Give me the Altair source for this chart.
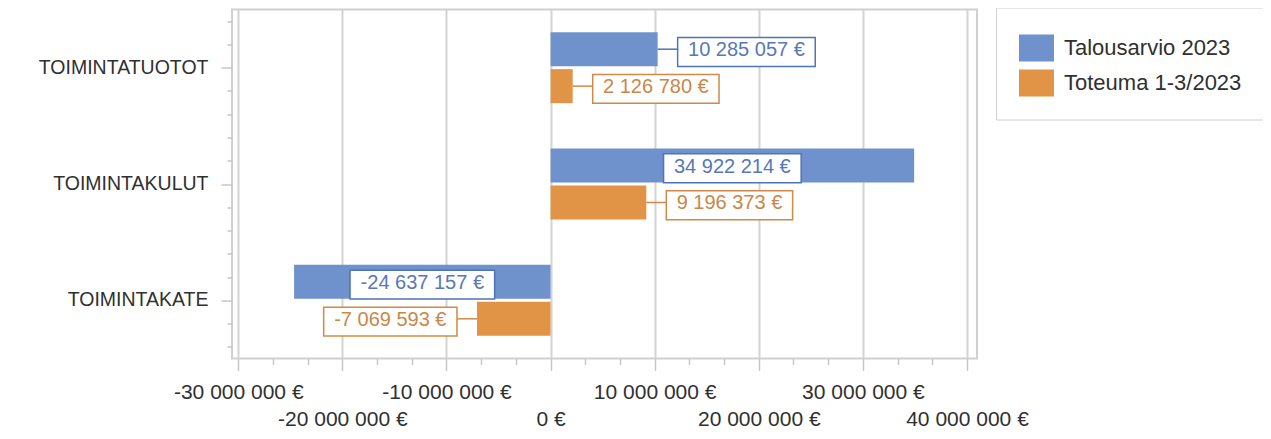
import altair as alt
import pandas as pd

# ---------------- data ----------------
categories = ["TOIMINTATUOTOT", "TOIMINTAKULUT", "TOIMINTAKATE"]
series_names = ["Talousarvio 2023", "Toteuma 1-3/2023"]
talousarvio_2023 = [10285057, 34922214, -24637157]
toteuma_1_3_2023 = [2126780, 9196373, -7069593]
x_major_ticks = [-30000000, -20000000, -10000000, 0, 10000000, 20000000, 30000000, 40000000]
y_tick_positions = [0.1, 0.3, 0.5, 0.7, 0.9, 1.1, 1.3, 1.5, 1.7, 1.9, 2.1, 2.3, 2.5, 2.7, 2.9]

series_fill = ["#6f91cc", "#e29446"]
series_line = ["#4f74b8", "#d08a45"]
series_text = ["#5878b8", "#c9874a"]


def eur(v):
    return f"{v:,}".replace(",", " ") + " €"


rows = []
for s, vals in zip(series_names, [talousarvio_2023, toteuma_1_3_2023]):
    for c, v in zip(categories, vals):
        rows.append({"cat": c, "series": s, "value": v, "label": eur(v)})
df = pd.DataFrame(rows)

# minor ticks (three sub-intervals per major step)
x_all_ticks = []
for a, b in zip(x_major_ticks[:-1], x_major_ticks[1:]):
    x_all_ticks += [a, round(a + (b - a) / 3), round(a + 2 * (b - a) / 3)]
x_all_ticks.append(x_major_ticks[-1])

# ---------------- layout constants ----------------
FONT = "Liberation Sans"
XMIN, XMAX = -30600000, 40960000
W, H = 745, 349
K = W / (XMAX - XMIN)  # px per euro
GAP = 20

MAJ = "abs(datum.value % 10000000) < 1"
xaxis = alt.Axis(
    values=x_all_ticks,
    title=None,
    domain=False,
    grid=True,
    gridColor="#d3d3d3",
    gridWidth=2,
    gridOpacity={"condition": {"test": MAJ, "value": 1}, "value": 0},
    ticks=True,
    tickColor="#c6c6c6",
    tickWidth=1.5,
    tickSize={"condition": {"test": MAJ, "value": 12}, "value": 6},
    labelExpr=MAJ + " ? replace(replace(format(datum.value, ',d'), regexp(',', 'g'), ' '), '\u2212', '-') + ' €' : ''",
    labelPadding={"condition": {"test": "datum.value % 20000000 == 0", "value": 38}, "value": 11},
    labelFontSize=21,
    labelColor="#303030",
    labelOverlap=False,
    labelFlush=False,
    labelBound=False,
)
xscale = alt.Scale(domain=[XMIN, XMAX], nice=False, zero=False)

yaxis = alt.Axis(title=None, ticks=False, domain=False, grid=False, labelPadding=24,
                 labelFontSize=19.5, labelColor="#303030", orient="left")
yscale = alt.Scale(domain=categories, paddingInner=0.39, paddingOuter=0.195)
Y = alt.Y("cat:N", sort=categories, scale=yscale, axis=yaxis)
YO = alt.YOffset("series:N", sort=series_names, scale=alt.Scale(domain=series_names, paddingInner=0.08))

base = alt.Chart(df).transform_calculate(
    bw="11.3*length(replace(datum.label, '-', '')) + 2 + (indexof(datum.label, '-') >= 0 ? 7 : 0)",
    vpx=f"abs(datum.value)*{K}",
    sgn="datum.value < 0 ? -1 : 1",
).transform_calculate(
    inside="datum.vpx > datum.bw + 20",
).transform_calculate(
    anchor=f"datum.inside ? datum.value/2 : datum.value + datum.sgn*({GAP} + datum.bw/2)/{K}",
).transform_calculate(
    bx1=f"datum.anchor - (datum.bw/2)/{K}",
    bx2=f"datum.anchor + (datum.bw/2)/{K}",
    lend=f"datum.anchor - datum.sgn*(datum.bw/2)/{K}",
)

legend = alt.Legend(
    title=None,
    orient="none",
    legendX=764,
    legendY=-2,
    direction="vertical",
    labelFontSize=22,
    labelFont=FONT,
    labelColor="#303030",
    labelOffset=10,
    labelLimit=400,
    symbolType="M-1,-0.771L1,-0.771L1,0.771L-1,0.771Z",
    symbolSize=1225,
    symbolStrokeWidth=0,
    symbolOpacity=1,
    padding=23,
    rowPadding=4,
    strokeColor="#d0d0d0",
    fillColor="white",
)

bars = base.mark_bar().encode(
    x=alt.X("value:Q", scale=xscale, axis=xaxis),
    x2=alt.datum(0),
    y=Y,
    yOffset=YO,
    color=alt.Color("series:N", sort=series_names,
                    scale=alt.Scale(domain=series_names, range=series_fill), legend=legend),
)

leaders = base.transform_filter("!datum.inside").mark_rule(strokeWidth=1.5).encode(
    x=alt.X("value:Q", scale=xscale, axis=xaxis),
    x2="lend:Q",
    y=Y,
    yOffset=YO,
    stroke=alt.Stroke("series:N", sort=series_names,
                      scale=alt.Scale(domain=series_names, range=series_line), legend=None),
)

boxes = base.mark_bar(fill="white", strokeWidth=1.5, height={"band": 0.85}).encode(
    x=alt.X("bx1:Q", scale=xscale, axis=xaxis),
    x2="bx2:Q",
    y=Y,
    yOffset=YO,
    stroke=alt.Stroke("series:N", sort=series_names,
                      scale=alt.Scale(domain=series_names, range=series_line), legend=None),
)

texts = base.mark_text(fontSize=20, font=FONT, align="center", baseline="middle", dy=1).encode(
    x=alt.X("anchor:Q", scale=xscale, axis=xaxis),
    y=Y,
    yOffset=YO,
    text="label:N",
    fill=alt.Fill("series:N", sort=series_names,
                  scale=alt.Scale(domain=series_names, range=series_text), legend=None),
)

main = alt.layer(bars, leaders, boxes, texts)

YMAJ = "abs((datum.value*10) % 10 - 5) < 0.01"
yticks = alt.Chart(df).mark_point(opacity=0).encode(
    x=alt.X(datum=0, type="quantitative", scale=xscale, axis=xaxis),
    y=alt.Y(datum=1.5, type="quantitative",
            scale=alt.Scale(domain=[0, 3], reverse=True, nice=False, zero=False),
            axis=alt.Axis(values=y_tick_positions, title=None, labels=False, domain=False,
                          grid=False, tickColor="#c6c6c6", tickWidth=1.5, offset=0, orient="left",
                          tickSize={"condition": {"test": YMAJ, "value": 11}, "value": 5})),
)

chart = alt.layer(main, yticks).resolve_scale(
    y="independent"
).properties(
    width=W,
    height=H,
    autosize=alt.AutoSizeParams(type="none"),
    padding={"left": 224, "top": 1.5, "right": 286, "bottom": 72.5},
).configure_view(
    stroke="#d0d0d0", strokeWidth=2
).configure_axis(
    labelFont=FONT
).configure_text(
    font=FONT
)

chart.save("out.html", embed_options={"renderer": "svg", "actions": False})
